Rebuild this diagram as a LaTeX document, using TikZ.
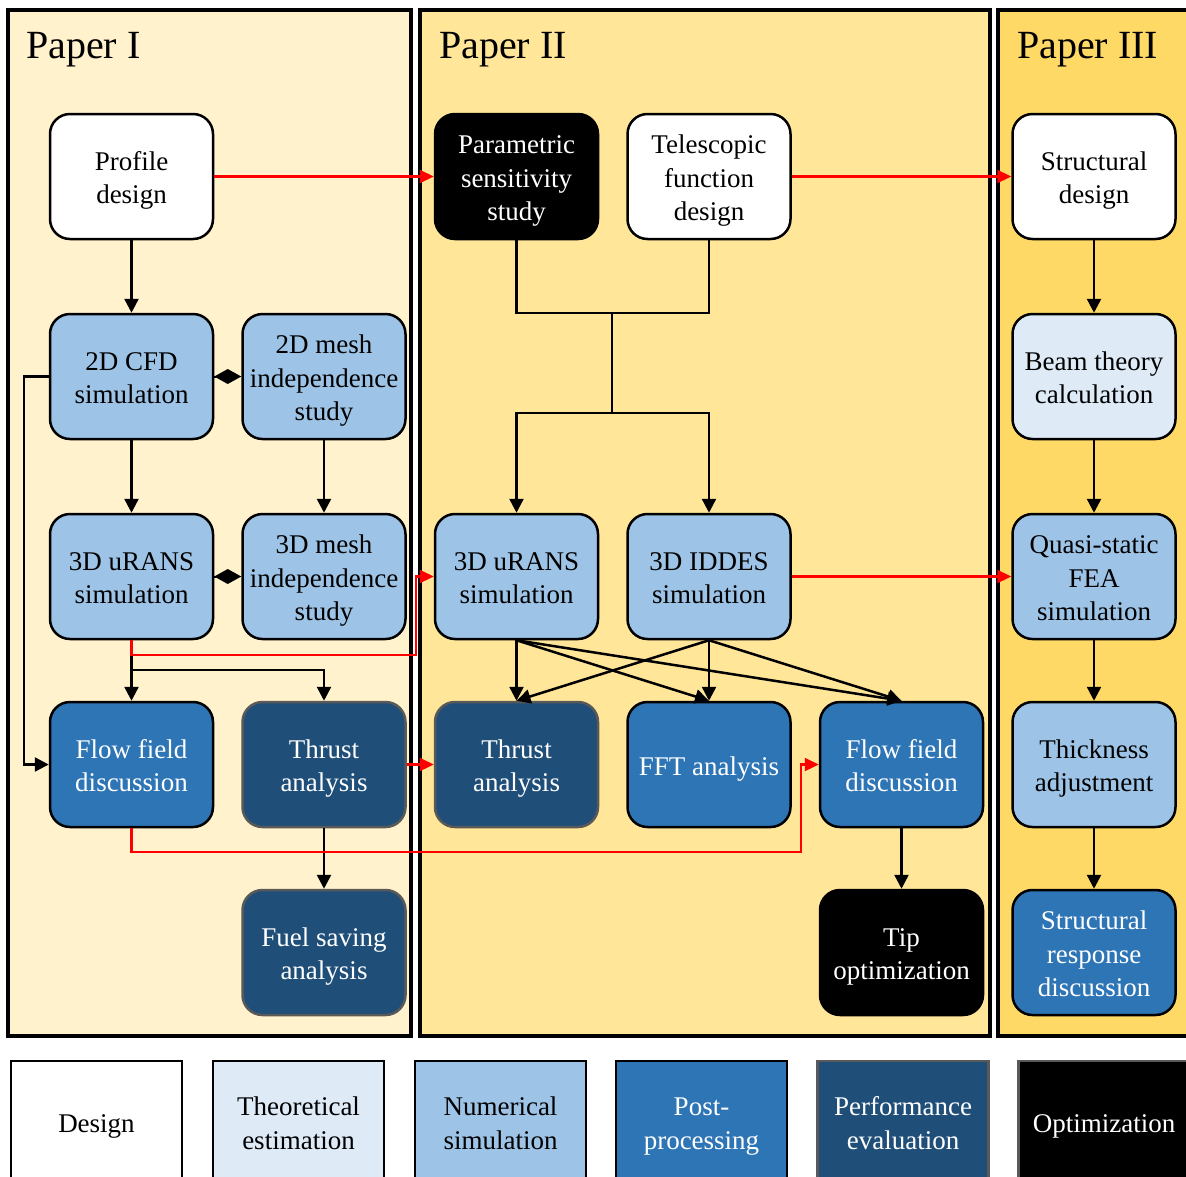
\documentclass[tikz,border=0pt]{standalone}
\usepackage{fontspec}
\setmainfont{Liberation Serif}
\usetikzlibrary{arrows.meta}
\definecolor{panelA}{HTML}{FFF2CC}
\definecolor{panelB}{HTML}{FFE699}
\definecolor{panelC}{HTML}{FFD966}
\definecolor{cTheo}{HTML}{DEEBF7}
\definecolor{cNum}{HTML}{9DC3E6}
\definecolor{cPost}{HTML}{2E75B6}
\definecolor{cPerf}{HTML}{1F4E79}
\definecolor{cGrey}{HTML}{595959}
\definecolor{cRed}{HTML}{FF0000}
\newcommand{\tS}{\rule{0pt}{27pt}}
\newcommand{\bS}{\rule[-6pt]{0pt}{6pt}}
\begin{document}
\begin{tikzpicture}[x=1pt,y=-1pt,
  panel/.style={draw=black, line width=4pt},
  ptitle/.style={anchor=base west, inner sep=0pt, font=\fontsize{40}{48}\selectfont},
  txt/.style={align=center, font=\fontsize{27}{33.5}\selectfont},
  box/.style={rectangle, rounded corners=20pt, minimum width=163pt, minimum height=125pt,
    inner sep=0pt, draw=black, line width=2.5pt, txt},
  design/.style={box, fill=white},
  theo/.style={box, fill=cTheo},
  num/.style={box, fill=cNum},
  post/.style={box, fill=cPost, text=white},
  perf/.style={box, fill=cPerf, draw=cGrey, text=white},
  opt/.style={box, fill=black, text=white},
  lg/.style={rectangle, minimum width=171pt, minimum height=122pt, inner sep=0pt,
    draw=black, line width=2.5pt, txt},
  blk/.style={draw=black, line width=2.5pt, -{Triangle[length=14pt,width=14pt]}},
  plain/.style={draw=black, line width=2.5pt},
  rd/.style={draw=cRed, line width=2.2pt, -{Triangle[length=14pt,width=13pt]}},
  dia/.style={draw=black, line width=2pt, -{Diamond[length=27pt,width=15pt]}}
]
\useasboundingbox (0,0) rectangle (1186,1176);
% panels
\draw[panel, fill=panelA] (8,10) rectangle (411,1036);
\draw[panel, fill=panelB] (420,10) rectangle (990,1036);
\draw[panel, fill=panelC] (998,10) rectangle (1200,1036);
\node[ptitle] (tI) at (26,58) {Paper I};
\node[ptitle] (tII) at (439,58) {Paper II};
\node[ptitle] (tIII) at (1017,58) {Paper III};

% Paper I
\node[design] (pd) at (131.5,176.5) {\tS Profile\\design\bS};
\node[num] (cfd2) at (131.5,376.5) {\tS 2D CFD\\simulation\bS};
\node[num] (mesh2) at (324,376.5) {\tS 2D mesh\\independence\\study\bS};
\node[num] (urans1) at (131.5,576.5) {\tS 3D uRANS\\simulation\bS};
\node[num] (mesh3) at (324,576.5) {\tS 3D mesh\\independence\\study\bS};
\node[post] (ff1) at (131.5,764.5) {\tS Flow field\\discussion\bS};
\node[perf] (thr1) at (324,764.5) {\tS Thrust\\analysis\bS};
\node[perf] (fuel) at (324,952.5) {\tS Fuel saving\\analysis\bS};

% Paper II
\node[opt] (pss) at (516.5,176.5) {\tS Parametric\\sensitivity\\study\bS};
\node[design] (tfd) at (709,176.5) {\tS Telescopic\\function\\design\bS};
\node[num] (urans2) at (516.5,576.5) {\tS 3D uRANS\\simulation\bS};
\node[num] (iddes) at (709,576.5) {\tS 3D IDDES\\simulation\bS};
\node[perf] (thr2) at (516.5,764.5) {\tS Thrust\\analysis\bS};
\node[post] (fft) at (709,764.5) {\tS FFT analysis\bS};
\node[post] (ff2) at (901.5,764.5) {\tS Flow field\\discussion\bS};
\node[opt] (tip) at (901.5,952.5) {\tS Tip\\optimization\bS};

% Paper III
\node[design] (sd) at (1094,176.5) {\tS Structural\\design\bS};
\node[theo] (beam) at (1094,376.5) {\tS Beam theory\\calculation\bS};
\node[num] (fea) at (1094,576.5) {\tS Quasi-static\\FEA\\simulation\bS};
\node[num] (thick) at (1094,764.5) {\tS Thickness\\adjustment\bS};
\node[post] (srd) at (1094,952.5) {\tS Structural\\response\\discussion\bS};

% legend
\node[lg, fill=white] (l1) at (96.5,1122) {\tS Design\bS};
\node[lg, fill=cTheo] (l2) at (298.5,1122) {\tS Theoretical\\estimation\bS};
\node[lg, fill=cNum] (l3) at (500.5,1122) {\tS Numerical\\simulation\bS};
\node[lg, fill=cPost, text=white] (l4) at (701.5,1122) {\tS Post-\\processing\bS};
\node[lg, fill=cPerf, draw=cGrey, text=white] (l5) at (903,1122) {\tS Performance\\evaluation\bS};
\node[lg, fill=black, draw=cGrey, text=white] (l6) at (1104,1122) {\tS Optimization\bS};

% junction coordinates
\coordinate (j1) at (612,313);
\coordinate (j2) at (612,413);
\coordinate (b1) at (131.5,670);
\coordinate (r1) at (416,655);
\coordinate (r2) at (801,852);

% black connectors, Paper I
\draw[blk] (pd) -- (cfd2);
\draw[blk] (cfd2) -- (urans1);
\draw[blk] (mesh2) -- (mesh3);
\draw[dia] (cfd2.east) -- (mesh2.west);
\draw[dia] (urans1.east) -- (mesh3.west);
\draw[blk] (urans1) -- (ff1);
\draw[blk] (b1) -| (thr1.north);
\draw[blk] (cfd2.west) -- ++(-25,0) |- (ff1.west);
\draw[blk] (thr1) -- (fuel);

% black connectors, Paper II
\draw[plain] (pss.south) |- (j1) -| (tfd.south);
\draw[plain] (j1) -- (j2);
\draw[blk] (j2) -| (urans2.north);
\draw[blk] (j2) -| (iddes.north);
\draw[blk] (urans2.south) -- (thr2.north);
\draw[blk] (urans2.south) -- (fft.north);
\draw[blk] (urans2.south) -- (ff2.north);
\draw[blk] (iddes.south) -- (thr2.north);
\draw[blk] (iddes.south) -- (fft.north);
\draw[blk] (iddes.south) -- (ff2.north);
\draw[blk] (ff2) -- (tip);

% black connectors, Paper III
\draw[blk] (sd) -- (beam);
\draw[blk] (beam) -- (fea);
\draw[blk] (fea) -- (thick);
\draw[blk] (thick) -- (srd);

% red connectors
\draw[rd] (pd.east) -- (pss.west);
\draw[rd] (tfd.east) -- (sd.west);
\draw[rd] (iddes.east) -- (fea.west);
\draw[rd] (thr1.east) -- (thr2.west);
\draw[rd] (urans1.south) |- (r1) |- (urans2.west);
\draw[rd] (ff1.south) |- (r2) |- (ff2.west);
\end{tikzpicture}
\end{document}
